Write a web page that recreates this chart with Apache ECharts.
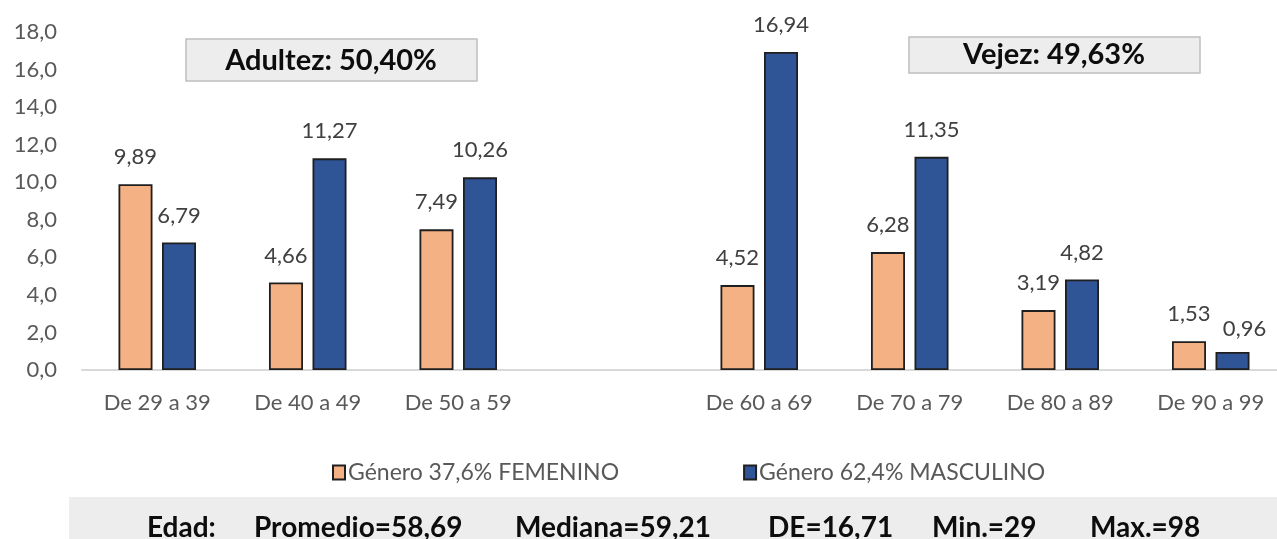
<!DOCTYPE html>
<meta charset="utf-8">
<style>
html, body { margin: 0; padding: 0; background: #fff; }
#main { width: 1277px; height: 539px; }
</style>
<div id="main"></div>
<script src="https://cdn.jsdelivr.net/npm/echarts@6/dist/echarts.min.js"></script>
<script>
// age groups, the empty slot is the gap between adultez and vejez
var ageGroups = ['De 29 a 39', 'De 40 a 49', 'De 50 a 59', '', 'De 60 a 69', 'De 70 a 79', 'De 80 a 89', 'De 90 a 99'];
var femenino = [9.89, 4.66, 7.49, null, 4.52, 6.28, 3.19, 1.53];
var masculino = [6.79, 11.27, 10.26, null, 16.94, 11.35, 4.82, 0.96];
var seriesNames = ['Género 37,6% FEMENINO', 'Género 62,4% MASCULINO'];
var groupBoxes = ['Adultez: 50,40%', 'Vejez: 49,63%'];
var statLabels = ['Edad:', 'Promedio=58,69', 'Mediana=59,21', 'DE=16,71', 'Min.=29', 'Max.=98'];

var FONT = 'Lato';
var statX = [147, 254, 515, 768, 932, 1090];

function comma(v, d) {
    return v.toFixed(d).replace('.', ',');
}

var chart = echarts.init(document.getElementById('main'));

var barLabel = {
    show: true,
    position: 'top',
    distance: 16,
    fontFamily: FONT,
    fontSize: 22,
    color: '#404040',
    formatter: function (p) { return comma(p.value, 2); }
};

// the last blue label sits a bit to the right in the original so it doesn't touch 1,53
var masculinoData = masculino.map(function (v, i) {
    if (i === masculino.length - 1) {
        return { value: v, label: { offset: [12, 4] } };
    }
    return v;
});

var graphics = [
    { type: 'rect', shape: { x: 69, y: 497, width: 1220, height: 50 }, style: { fill: '#ededed' }, z: 0 },
    { type: 'rect', shape: { x: 186, y: 39, width: 291, height: 42 }, style: { fill: '#ededed', stroke: '#bfbfbf', lineWidth: 1.5 }, z: 1 },
    { type: 'text', x: 331, y: 61, style: { text: groupBoxes[0], font: 'bold 29px ' + FONT, fill: '#0d0d0d', align: 'center', verticalAlign: 'middle' }, z: 2 },
    { type: 'rect', shape: { x: 909, y: 37, width: 291, height: 36 }, style: { fill: '#ededed', stroke: '#bfbfbf', lineWidth: 1.5 }, z: 1 },
    { type: 'text', x: 1054, y: 55, style: { text: groupBoxes[1], font: 'bold 29px ' + FONT, fill: '#0d0d0d', align: 'center', verticalAlign: 'middle' }, z: 2 }
];
statLabels.forEach(function (t, i) {
    graphics.push({
        type: 'text', x: statX[i], y: 528,
        style: { text: t, font: 'bold 28px ' + FONT, fill: '#0d0d0d', align: 'left', verticalAlign: 'middle' },
        z: 2
    });
});

var option = {
    animation: false,
    textStyle: { fontFamily: FONT },
    grid: {
        left: 82,
        top: 32,
        width: 1204,
        height: 338,
        containLabel: false,
        outerBoundsMode: 'none'
    },
    legend: {
        left: 327,
        top: 456,
        icon: 'rect',
        itemWidth: 12,
        itemHeight: 14,
        itemGap: 124,
        textStyle: { fontFamily: FONT, fontSize: 23, color: '#595959', padding: [0, 0, 0, -2] },
        data: seriesNames
    },
    xAxis: {
        type: 'category',
        data: ageGroups,
        axisLine: { lineStyle: { color: '#d9d9d9', width: 2 } },
        axisTick: { show: false },
        axisLabel: { fontFamily: FONT, fontSize: 22, color: '#595959', margin: 22, interval: 0 }
    },
    yAxis: {
        type: 'value',
        min: 0,
        max: 18,
        interval: 2,
        splitLine: { show: false },
        axisLine: { show: false },
        axisTick: { show: false },
        axisLabel: {
            fontFamily: FONT, fontSize: 22, color: '#595959', margin: 25,
            formatter: function (v) { return comma(v, 1); }
        }
    },
    series: [
        {
            name: seriesNames[0],
            type: 'bar',
            data: femenino,
            barWidth: 34,
            barGap: '28%',
            itemStyle: { color: '#f4b183', borderColor: '#1f1f1f', borderWidth: 1.8 },
            label: barLabel
        },
        {
            name: seriesNames[1],
            type: 'bar',
            data: masculinoData,
            barWidth: 34,
            barGap: '28%',
            itemStyle: { color: '#2f5597', borderColor: '#1f1f1f', borderWidth: 1.8 },
            label: barLabel
        }
    ],
    graphic: graphics
};

chart.setOption(option);
</script>
